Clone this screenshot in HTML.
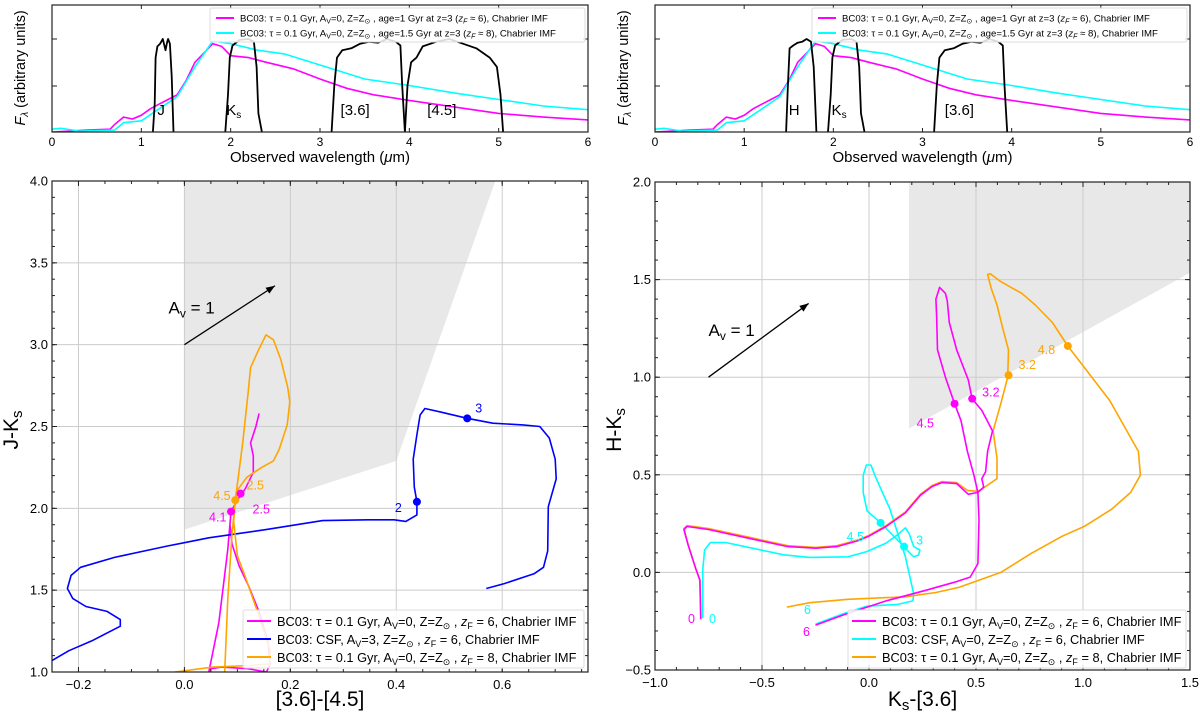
<!DOCTYPE html>
<html><head><meta charset="utf-8">
<style>
html,body{margin:0;padding:0;background:#fff;}
svg{display:block;font-family:"Liberation Sans","DejaVu Sans",sans-serif;}
</style></head>
<body>
<svg id="fig" width="1200" height="713" viewBox="0 0 1200 713" xmlns="http://www.w3.org/2000/svg"></svg>
<script>
// ---------- data ----------
const specMagentaX=[0,0.4,0.65,0.7,0.8,0.9,1.0,1.1,1.2,1.3,1.4,1.5,1.6,1.7,1.8,1.9,2.0,2.2,2.4,2.7,3.0,3.3,3.6,4.0,4.5,5.0,5.5,6.0];
const specMagentaY=[0,0.02,0.03,0.08,0.16,0.14,0.18,0.25,0.3,0.35,0.4,0.55,0.75,0.85,0.95,0.92,0.82,0.8,0.75,0.68,0.57,0.47,0.4,0.34,0.27,0.2,0.16,0.13];
const specCyanX=[0,0.1,0.3,0.7,0.8,1.0,1.2,1.4,1.6,1.8,2.0,2.3,2.6,3.0,3.5,4.0,4.5,5.0,5.5,6.0];
const specCyanY=[0.03,0.04,0.01,0.02,0.1,0.12,0.25,0.38,0.7,0.98,0.95,0.88,0.84,0.72,0.57,0.5,0.42,0.35,0.28,0.24];
const filtJ=[[1.13,0],[1.15,0.3],[1.16,0.8],[1.18,0.92],[1.21,0.95],[1.24,1],[1.26,0.92],[1.27,0.88],[1.29,0.97],[1.3,1],[1.32,0.95],[1.34,0.6],[1.36,0]];
const filtH=[[1.47,0],[1.49,0.5],[1.51,0.9],[1.55,0.93],[1.6,0.96],[1.65,0.97],[1.7,1],[1.75,0.97],[1.78,0.7],[1.81,0]];
const filtKs=[[1.94,0],[1.97,0.4],[1.99,0.8],[2.02,0.93],[2.1,0.99],[2.2,1],[2.26,0.97],[2.29,0.7],[2.31,0.2],[2.35,0]];
const filtI1=[[3.13,0],[3.16,0.5],[3.19,0.8],[3.25,0.88],[3.35,0.9],[3.45,0.95],[3.55,0.97],[3.65,0.96],[3.75,1],[3.85,0.97],[3.9,0.93],[3.92,0.5],[3.95,0]];
const filtI2=[[3.95,0],[3.98,0.5],[4.02,0.75],[4.08,0.8],[4.15,0.92],[4.3,0.97],[4.45,1],[4.6,0.95],[4.75,0.9],[4.9,0.8],[4.98,0.7],[5.02,0.4],[5.05,0]];
// left colour-colour
const blueL=[[0.57,1.51],[0.604,1.54],[0.66,1.60],[0.678,1.64],[0.686,1.74],[0.687,2.01],[0.702,2.18],[0.70,2.30],[0.689,2.43],[0.671,2.50],[0.639,2.51],[0.582,2.52],[0.534,2.55],[0.482,2.59],[0.454,2.61],[0.445,2.57],[0.439,2.45],[0.432,2.30],[0.434,2.13],[0.439,2.04],[0.439,1.96],[0.418,1.92],[0.396,1.93],[0.346,1.93],[0.261,1.925],[0.154,1.87],[0.046,1.82],[0.0,1.79],[-0.032,1.77],[-0.132,1.70],[-0.196,1.64],[-0.214,1.59],[-0.221,1.51],[-0.211,1.45],[-0.186,1.40],[-0.146,1.37],[-0.121,1.32],[-0.121,1.28],[-0.175,1.19],[-0.218,1.13],[-0.25,1.07]];
const magL=[[0.141,2.58],[0.135,2.5],[0.125,2.4],[0.13,2.32],[0.13,2.22],[0.115,2.12],[0.1,2.05],[0.088,1.98],[0.086,1.9],[0.09,1.78],[0.103,1.65],[0.122,1.52],[0.142,1.36],[0.158,1.18],[0.162,1.05],[0.155,1.0],[0.12,1.02],[0.07,1.03],[0.05,1.02],[0.046,1.0],[0.065,1.3],[0.082,1.75],[0.088,1.98]];
const orgL=[[0.076,1.0],[0.082,1.45],[0.09,1.85],[0.096,2.05],[0.11,2.4],[0.12,2.7],[0.125,2.86],[0.139,2.96],[0.154,3.06],[0.168,3.03],[0.182,2.91],[0.195,2.74],[0.199,2.65],[0.194,2.51],[0.179,2.36],[0.168,2.29],[0.146,2.25],[0.118,2.19],[0.102,2.12],[0.096,2.05],[0.093,1.92],[0.1,1.71],[0.114,1.59],[0.139,1.36],[0.162,1.13],[0.161,1.05],[0.125,1.04],[0.054,1.03],[-0.018,1.0]];
const dotsL=[[0.534,2.55,'#0000ff','3',8,-6],[0.439,2.04,'#0000ff','2',-22,10],[0.106,2.09,'#ffa500','2.5',6,-4],[0.096,2.05,'#ffa500','4.5',-22,0],[0.088,1.98,'#ff00ff','4.1',-22,10],[0.106,2.09,'#ff00ff','2.5',12,20]];
// right colour-colour
const magR=[[-0.786,-0.24],[-0.79,-0.04],[-0.81,0.02],[-0.845,0.14],[-0.865,0.22],[-0.85,0.235],[-0.75,0.22],[-0.55,0.172],[-0.38,0.132],[-0.25,0.124],[-0.15,0.132],[-0.05,0.163],[0.0,0.186],[0.08,0.235],[0.17,0.305],[0.24,0.395],[0.295,0.44],[0.34,0.46],[0.41,0.455],[0.464,0.40],[0.509,0.41],[0.536,0.437],[0.527,0.48],[0.545,0.516],[0.554,0.62],[0.577,0.725],[0.527,0.83],[0.482,0.89],[0.464,0.986],[0.41,1.14],[0.375,1.28],[0.366,1.39],[0.357,1.43],[0.33,1.46],[0.3125,1.40],[0.316,1.317],[0.32,1.14],[0.357,1.0],[0.40,0.864],[0.43,0.777],[0.46,0.62],[0.49,0.498],[0.509,0.41],[0.514,0.27],[0.509,0.045],[0.473,-0.024],[0.40,-0.05],[0.259,-0.094],[0.08,-0.146],[-0.116,-0.216],[-0.25,-0.27]];
const cyanR=[[-0.777,-0.234],[-0.777,0.01],[-0.768,0.115],[-0.741,0.153],[-0.67,0.153],[-0.545,0.124],[-0.40,0.09],[-0.277,0.077],[-0.098,0.08],[-0.009,0.107],[0.08,0.15],[0.134,0.193],[0.17,0.228],[0.1875,0.2],[0.209,0.132],[0.238,0.115],[0.232,0.089],[0.209,0.08],[0.19,0.1],[0.164,0.132],[0.116,0.185],[0.054,0.254],[-0.009,0.315],[-0.027,0.41],[-0.027,0.498],[-0.012,0.55],[0.009,0.55],[0.027,0.498],[0.0625,0.41],[0.098,0.324],[0.134,0.2],[0.17,0.08],[0.209,-0.11],[0.205,-0.146],[0.134,-0.164],[-0.009,-0.173],[-0.116,-0.21],[-0.25,-0.265]];
const orgR=[[-0.786,-0.24],[-0.79,-0.04],[-0.81,0.02],[-0.845,0.14],[-0.865,0.225],[-0.85,0.24],[-0.75,0.225],[-0.55,0.178],[-0.38,0.137],[-0.25,0.128],[-0.15,0.137],[-0.05,0.167],[0.0,0.19],[0.08,0.24],[0.17,0.31],[0.24,0.40],[0.295,0.445],[0.34,0.465],[0.41,0.46],[0.46,0.42],[0.51,0.415],[0.545,0.44],[0.598,0.48],[0.598,0.585],[0.58,0.725],[0.616,0.864],[0.648,1.0],[0.652,1.14],[0.625,1.25],[0.598,1.37],[0.571,1.456],[0.554,1.526],[0.566,1.53],[0.616,1.49],[0.67,1.456],[0.714,1.43],[0.777,1.37],[0.857,1.28],[0.929,1.16],[1.027,1.02],[1.125,0.88],[1.259,0.62],[1.268,0.498],[1.223,0.41],[1.134,0.324],[1.009,0.237],[0.902,0.185],[0.759,0.098],[0.616,0.0],[0.42,-0.077],[0.3125,-0.103],[0.17,-0.125],[-0.098,-0.138],[-0.277,-0.155],[-0.384,-0.178]];
const dotsR=[[0.40,0.864,'#ff00ff','4.5',-38,24],[0.482,0.89,'#ff00ff','3.2',10,-2],[0.652,1.01,'#ffa500','3.2',10,-6],[0.929,1.16,'#ffa500','4.8',-30,8],[0.054,0.254,'#00ffff','4.5',-34,18],[0.164,0.132,'#00ffff','3',12,-2]];
const xTicksTop=[0,1,2,3,4,5,6];
const xTicksL=[-0.2,0.0,0.2,0.4,0.6];
const yTicksL=[1.0,1.5,2.0,2.5,3.0,3.5,4.0];
const xTicksR=[-1.0,-0.5,0.0,0.5,1.0,1.5];
const yTicksR=[-0.5,0.0,0.5,1.0,1.5,2.0];

// ---------- helpers ----------
const NS='http://www.w3.org/2000/svg';
const svg=document.getElementById('fig');
function mk(tag,attrs,parent){const e=document.createElementNS(NS,tag);for(const k in attrs)e.setAttribute(k,attrs[k]);(parent||svg).appendChild(e);return e;}
function scale(d0,d1,p0,p1){return v=>p0+(v-d0)*(p1-p0)/(d1-d0);}
function pathOf(pts,sx,sy){return pts.map((p,i)=>(i?'L':'M')+sx(p[0]).toFixed(1)+','+sy(p[1]).toFixed(1)).join(' ');}

function axesBox(g,x0,y0,x1,y1){
  const r=mk('rect',{x:x0,y:y0,width:x1-x0,height:y1-y0,fill:'none',stroke:'#222','stroke-width':1.2},g);
  
  
}
function clip(id,x0,y0,x1,y1){const c=mk('clipPath',{id:id});mk('rect',{x:x0,y:y0,width:x1-x0,height:y1-y0},c);}

// ---------- top spectrum panels ----------
function topPanel(name,X0,X1,filters){
  const Y0=5,Y1=132;
  const g=mk('g',{});
  
  
  const sx=scale(0,6,X0,X1), sy=scale(0,1,Y1,39);
  clip(name+'-clip',X0,Y0,X1,Y1);
  const inner=mk('g',{'clip-path':'url(#'+name+'-clip)'},g);
  const m=mk('path',{d:pathOf(specMagentaX.map((x,i)=>[x,specMagentaY[i]]),sx,sy),fill:'none',stroke:'#ff00ff','stroke-width':1.6},inner);
  
  
  const c=mk('path',{d:pathOf(specCyanX.map((x,i)=>[x,specCyanY[i]]),sx,sy),fill:'none',stroke:'#00ffff','stroke-width':1.6},inner);
  
  
  filters.forEach(f=>{
    const p=mk('path',{d:pathOf(f[0],sx,sy),fill:'none',stroke:'#000','stroke-width':1.8,'stroke-linejoin':'round'},inner);
    
    
    const t=mk('text',{x:sx(f[1]),y:115,'font-size':15,fill:'#000'},g);
    t.innerHTML=f[3];
    
    
  });
  axesBox(g,X0,Y0,X1,Y1);
  xTicksTop.forEach(v=>{
    const x=sx(v);
    mk('line',{x1:x,x2:x,y1:Y1,y2:Y1-4,stroke:'#222'},g);
    mk('line',{x1:x,x2:x,y1:Y0,y2:Y0+4,stroke:'#222'},g);
    const t=mk('text',{x:x,y:Y1+14,'font-size':12,'text-anchor':'middle'},g);
    t.textContent=v;
    
    
  });
  [39,86].forEach(y=>{mk('line',{x1:X0,x2:X0+5,y1:y,y2:y,stroke:'#222'},g);mk('line',{x1:X1,x2:X1-5,y1:y,y2:y,stroke:'#222'},g);});
  const xl=mk('text',{x:(X0+X1)/2,y:162,'font-size':15,'text-anchor':'middle'},g);
  xl.innerHTML='Observed wavelength (<tspan font-style="italic">μ</tspan>m)';
  
  
  const yl=mk('text',{x:0,y:0,'font-size':14.5,'text-anchor':'middle',transform:'translate('+(X0-27)+',68) rotate(-90)'},g);
  yl.innerHTML='<tspan font-style="italic">F</tspan><tspan font-style="italic" font-size="10" dy="3">λ</tspan><tspan dy="-3"> (arbitrary units)</tspan>';
  
  
  const lx=X1-378, lg=mk('g',{},g);
  
  
  mk('rect',{x:lx,y:8,width:375,height:34,fill:'#fff','fill-opacity':0.85,stroke:'#ddd',rx:2},lg);
  const items=[['#ff00ff','age=1 Gyr at z=3 (','6'],['#00ffff','age=1.5 Gyr at z=3 (','8']];
  items.forEach((it,i)=>{
    const y=18+i*15;
    mk('line',{x1:lx+6,x2:lx+24,y1:y,y2:y,stroke:it[0],'stroke-width':2},lg);
    const t=mk('text',{x:lx+30,y:y+3.5,'font-size':9.6},lg);
    t.innerHTML='BC03: τ = 0.1 Gyr, A<tspan font-size="7" dy="2">V</tspan><tspan dy="-2">=0, Z=Z</tspan><tspan font-size="7" dy="2">⊙</tspan><tspan dy="-2"> , '+it[1]+'</tspan><tspan font-style="italic">z</tspan><tspan font-size="7" font-style="italic" dy="2">F</tspan><tspan dy="-2"> ≈ '+it[2]+'), Chabrier IMF</tspan>';
    
    
  });
}
topPanel('spectrum-panel-left',52,588,[[filtJ,1.18,'j','J'],[filtKs,1.95,'ks','K<tspan font-size="10" dy="3">s</tspan>'],[filtI1,3.23,'irac1','[3.6]'],[filtI2,4.2,'irac2','[4.5]']]);
topPanel('spectrum-panel-right',655,1190,[[filtH,1.5,'h','H'],[filtKs,1.98,'ks','K<tspan font-size="10" dy="3">s</tspan>'],[filtI1,3.25,'irac1','[3.6]']]);

// ---------- colour-colour panels ----------
function ccPanel(cfg){
  const g=mk('g',{});
  
  
  const sx=scale(cfg.xr[0],cfg.xr[1],cfg.X0,cfg.X1), sy=scale(cfg.yr[0],cfg.yr[1],cfg.Y1,cfg.Y0);
  clip(cfg.name+'-clip',cfg.X0,cfg.Y0,cfg.X1,cfg.Y1);
  const inner=mk('g',{'clip-path':'url(#'+cfg.name+'-clip)'},g);
  const reg=mk('path',{d:pathOf(cfg.region,sx,sy)+'Z',fill:'#e8e8e8'},inner);
  
  
  cfg.xt.forEach(v=>{
    const x=sx(v);
    mk('line',{x1:x,x2:x,y1:cfg.Y0,y2:cfg.Y1,stroke:'#ccc','stroke-width':1},inner);
    mk('line',{x1:x,x2:x,y1:cfg.Y1,y2:cfg.Y1-5,stroke:'#222'},g);
    mk('line',{x1:x,x2:x,y1:cfg.Y0,y2:cfg.Y0+5,stroke:'#222'},g);
    const t=mk('text',{x:x,y:cfg.Y1+17,'font-size':13,'text-anchor':'middle'},g);
    t.textContent=(v<0?'−':'')+Math.abs(v).toFixed(1);
    
    
  });
  cfg.yt.forEach(v=>{
    const y=sy(v);
    mk('line',{x1:cfg.X0,x2:cfg.X1,y1:y,y2:y,stroke:'#ccc','stroke-width':1},inner);
    mk('line',{x1:cfg.X0,x2:cfg.X0+5,y1:y,y2:y,stroke:'#222'},g);
    mk('line',{x1:cfg.X1,x2:cfg.X1-5,y1:y,y2:y,stroke:'#222'},g);
    const t=mk('text',{x:cfg.X0-4,y:y+4.5,'font-size':13,'text-anchor':'end'},g);
    t.textContent=(v<0?'−':'')+Math.abs(v).toFixed(1);
    
    
  });
  for(let v=cfg.xr[0];v<=cfg.xr[1]+1e-9;v+=cfg.xm){const x=sx(v);mk('line',{x1:x,x2:x,y1:cfg.Y1,y2:cfg.Y1-3,stroke:'#222'},g);mk('line',{x1:x,x2:x,y1:cfg.Y0,y2:cfg.Y0+3,stroke:'#222'},g);}
  for(let v=cfg.yr[0];v<=cfg.yr[1]+1e-9;v+=0.1){const y=sy(v);mk('line',{x1:cfg.X0,x2:cfg.X0+3,y1:y,y2:y,stroke:'#222'},g);mk('line',{x1:cfg.X1,x2:cfg.X1-3,y1:y,y2:y,stroke:'#222'},g);}
  const a=cfg.arrow, ax0=sx(a[0]),ay0=sy(a[1]),ax1=sx(a[2]),ay1=sy(a[3]);
  const ang=Math.atan2(ay1-ay0,ax1-ax0);
  const ar=mk('line',{x1:ax0,y1:ay0,x2:ax1,y2:ay1,stroke:'#000','stroke-width':1.3},g);
  
  
  const hl=9,hw=3.5,bx=ax1-hl*Math.cos(ang),by=ay1-hl*Math.sin(ang);
  mk('polygon',{points:ax1+','+ay1+' '+(bx-hw*Math.sin(ang))+','+(by+hw*Math.cos(ang))+' '+(bx+hw*Math.sin(ang))+','+(by-hw*Math.cos(ang)),fill:'#000'},g);
  const at=mk('text',{x:sx(cfg.alab[0]),y:sy(cfg.alab[1]),'font-size':17},g);
  at.innerHTML='A<tspan font-size="12" dy="4">v</tspan><tspan dy="-4"> = 1</tspan>';
  
  
  cfg.series.forEach(s=>{
    const p=mk('path',{d:pathOf(s[0],sx,sy),fill:'none',stroke:s[1],'stroke-width':1.6,'stroke-linejoin':'round'},inner);
    
    
  });
  cfg.dots.forEach(d=>{
    const c=mk('circle',{cx:sx(d[0]),cy:sy(d[1]),r:4,fill:d[2]},g);
    
    
    const t=mk('text',{x:sx(d[0])+d[4],y:sy(d[1])+d[5],'font-size':12.5,fill:d[2]},g);
    t.textContent=d[3];
    
    
  });
  (cfg.labels||[]).forEach(l=>{
    const t=mk('text',{x:l[0],y:l[1],'font-size':12.5,fill:l[2]},g);
    t.textContent=l[3];
    
    
  });
  axesBox(g,cfg.X0,cfg.Y0,cfg.X1,cfg.Y1);
  const xl=mk('text',{x:(cfg.X0+cfg.X1)/2,y:706,'font-size':21,'text-anchor':'middle'},g);
  xl.innerHTML=cfg.xlab;
  
  
  const yl=mk('text',{x:0,y:0,'font-size':21,'text-anchor':'middle',transform:'translate('+(cfg.X0-34)+',430) rotate(-90)'},g);
  yl.innerHTML=cfg.ylab;
  
  
  const lx=cfg.legX, ly=610, lg=mk('g',{},g);
  
  
  mk('rect',{x:lx,y:ly,width:cfg.X1-lx-4,height:58,fill:'#fff','fill-opacity':0.85,stroke:'#ddd',rx:2},lg);
  cfg.legend.forEach((it,i)=>{
    const y=ly+11+i*18;
    mk('line',{x1:lx+4,x2:lx+28,y1:y,y2:y,stroke:it[0],'stroke-width':2},lg);
    const t=mk('text',{x:lx+34,y:y+5,'font-size':12.8},lg);
    t.innerHTML=it[1];
    
    
  });
}
const sub=s=>'<tspan font-size="9" dy="3">'+s+'</tspan><tspan dy="-3">';
const leg1='BC03: τ = 0.1 Gyr, A'+sub('V')+'=0, Z=Z</tspan>'+sub('⊙')+' , </tspan><tspan font-style="italic">z</tspan>'+sub('F')+' = 6, Chabrier IMF</tspan>';
const leg3='BC03: τ = 0.1 Gyr, A'+sub('V')+'=0, Z=Z</tspan>'+sub('⊙')+' , </tspan><tspan font-style="italic">z</tspan>'+sub('F')+' = 8, Chabrier IMF</tspan>';
const legCSF=av=>'BC03: CSF, A'+sub('V')+'='+av+', Z=Z</tspan>'+sub('⊙')+' , </tspan><tspan font-style="italic">z</tspan>'+sub('F')+' = 6, Chabrier IMF</tspan>';

ccPanel({name:'colour-panel-left',X0:52,X1:588,Y0:181,Y1:672,xr:[-0.25,0.762],yr:[1.0,4.0],xm:0.05,
  xt:xTicksL,yt:yTicksL,region:[[0,4.0],[0.587,4.0],[0.4,2.29],[0,1.87]],
  arrow:[0,3.0,0.171,3.36],alab:[-0.03,3.19],
  series:[[magL,'#ff00ff','track-tau01-zf6'],[blueL,'#0000ff','track-csf-av3'],[orgL,'#ffa500','track-tau01-zf8']],
  dots:dotsL,
  xlab:'[3.6]-[4.5]',ylab:'J-K<tspan font-size="15" dy="4">s</tspan>',legX:243,
  legend:[['#ff00ff',leg1],['#0000ff',legCSF(3)],['#ffa500',leg3]]});
ccPanel({name:'colour-panel-right',X0:655,X1:1190,Y0:182,Y1:670,xr:[-1.0,1.5],yr:[-0.5,2.0],xm:0.1,
  xt:xTicksR,yt:yTicksR,region:[[0.1875,0.737],[0.1875,2.0],[1.5,2.0],[1.5,1.535]],
  arrow:[-0.75,1.0,-0.282,1.378],alab:[-0.75,1.21],
  series:[[cyanR,'#00ffff','track-csf-av0'],[orgR,'#ffa500','track-tau01-zf8'],[magR,'#ff00ff','track-tau01-zf6']],
  dots:dotsR,
  labels:[[688,623,'#ff00ff','0'],[709,623,'#00ffff','0'],[804,614,'#00ffff','6'],[803,636,'#ff00ff','6']],
  xlab:'K<tspan font-size="15" dy="4">s</tspan><tspan dy="-4">-[3.6]</tspan>',ylab:'H-K<tspan font-size="15" dy="4">s</tspan>',legX:848,
  legend:[['#ff00ff',leg1],['#00ffff',legCSF(0)],['#ffa500',leg3]]});
</script>
</body></html>
